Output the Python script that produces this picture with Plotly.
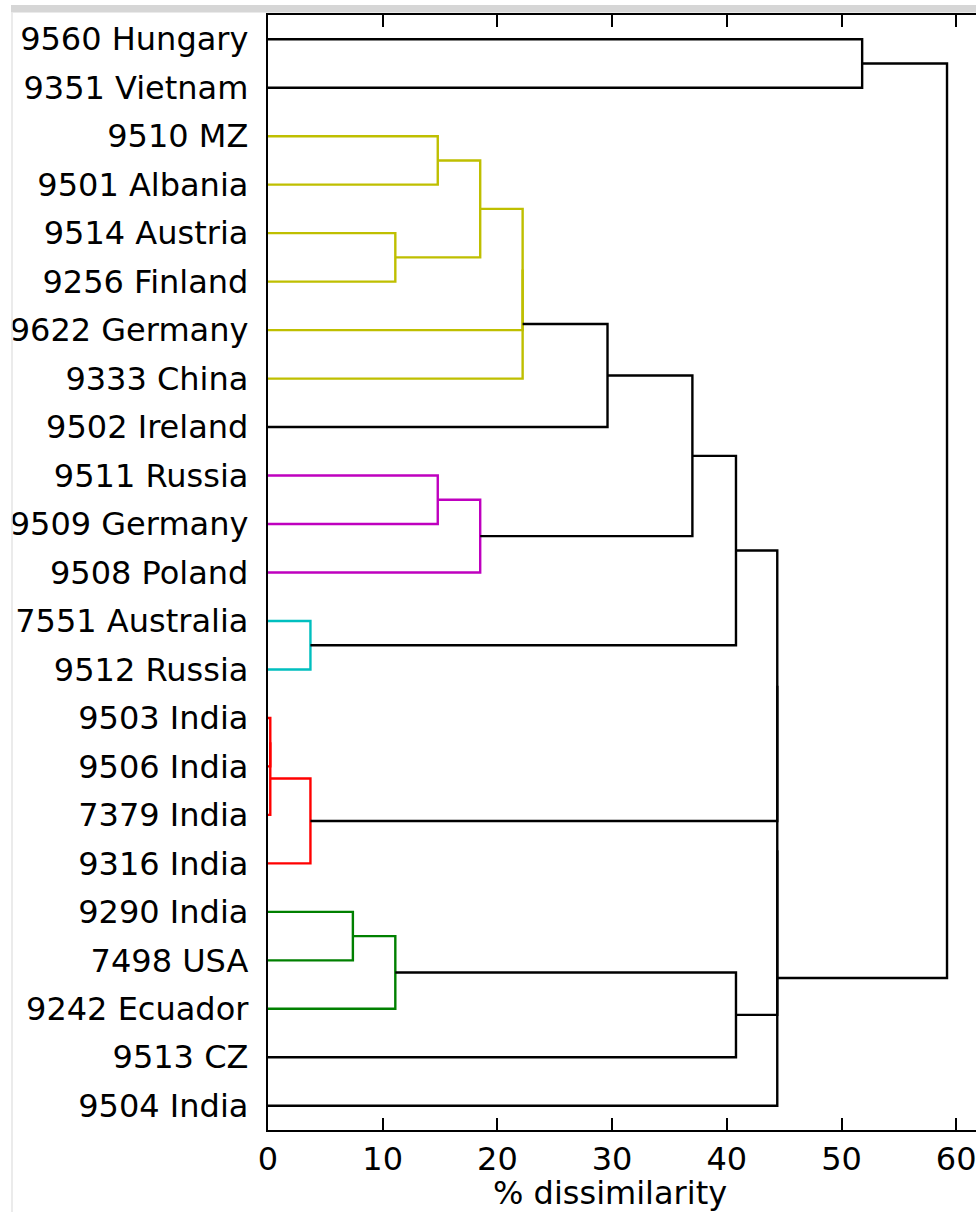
import plotly.graph_objects as go

# ---- data ----
leaf_labels = [
    "9560 Hungary", "9351 Vietnam", "9510 MZ", "9501 Albania", "9514 Austria",
    "9256 Finland", "9622 Germany", "9333 China", "9502 Ireland", "9511 Russia",
    "9509 Germany", "9508 Poland", "7551 Australia", "9512 Russia", "9503 India",
    "9506 India", "7379 India", "9316 India", "9290 India", "7498 USA",
    "9242 Ecuador", "9513 CZ", "9504 India",
]
# linkage: child ids (leaf index < 23, else 23 + merge index), height (% dissimilarity), colour group
merge_left = [14, 23, 24, 12, 18, 4, 27, 2, 9, 30, 31, 32, 34, 35, 36, 37, 29, 38, 40, 41, 0, 43]
merge_right = [15, 16, 17, 13, 19, 5, 20, 3, 10, 28, 11, 6, 7, 8, 33, 26, 21, 25, 39, 22, 1, 42]
merge_height = [0.2, 0.2, 3.7, 3.7, 7.4, 11.1, 11.1, 14.8, 14.8, 18.5, 18.5, 22.2, 22.2,
                29.6, 37.0, 40.8, 40.8, 44.4, 44.4, 44.4, 51.8, 59.2]
merge_group = ["r", "r", "r", "c", "g", "y", "g", "y", "m", "y", "m", "y", "y",
               "k", "k", "k", "k", "k", "k", "k", "k", "k"]
x_ticks = [0, 10, 20, 30, 40, 50, 60]

group_colors = {"r": "#ff0000", "c": "#00bfbf", "g": "#008000", "y": "#bfbf00",
                "m": "#bf00bf", "k": "#000000"}

n = len(leaf_labels)
pos = {i: float(i) for i in range(n)}
hgt = {i: 0.0 for i in range(n)}
paths = {g: ([], []) for g in group_colors}
for k, (a, b, h, g) in enumerate(zip(merge_left, merge_right, merge_height, merge_group)):
    xs, ys = paths[g]
    xs += [hgt[a], h, h, hgt[b], None]
    ys += [pos[a], pos[a], pos[b], pos[b], None]
    cid = n + k
    pos[cid] = (pos[a] + pos[b]) / 2
    hgt[cid] = h

fig = go.Figure()
for g in ["y", "m", "c", "r", "g", "k"]:
    xs, ys = paths[g]
    fig.add_trace(go.Scatter(x=xs, y=ys, mode="lines",
                             line=dict(color=group_colors[g], width=2.4),
                             hoverinfo="skip", showlegend=False))

L, R, T, B = 268, 0, 15, 82
W, H = 976, 1212
pw = W - L - R
ph = H - T - B
font = dict(family="DejaVu Sans", size=32, color="black")

fig.update_layout(
    width=W, height=H,
    margin=dict(l=L, r=R, t=T, b=B, pad=0),
    plot_bgcolor="white", paper_bgcolor="white",
    font=font,
    xaxis=dict(range=[0, pw / 11.47], tickvals=x_ticks, ticks="inside", ticklen=12,
               tickwidth=2, tickcolor="black", showline=True, linewidth=2.4,
               linecolor="black", mirror="ticks", showgrid=False, zeroline=False,
               tickfont=font, ticklabelstandoff=-1, ticklabeloverflow="allow"),
    yaxis=dict(range=[n - 0.5, -0.5], tickvals=list(range(n)), ticktext=leaf_labels,
               ticks="", showline=True, linewidth=2.4, linecolor="black",
               showgrid=False, zeroline=False, tickfont=font, ticklabelstandoff=11),
    annotations=[dict(text="% dissimilarity", xref="paper", yref="paper",
                      x=(610 - L) / pw, y=-(1193 - (H - B)) / ph,
                      showarrow=False, font=font, xanchor="center", yanchor="middle")],
    shapes=[
        dict(type="rect", xref="paper", yref="paper",
             x0=(11 - L) / pw, x1=1.0, y0=1 + (T - 12.5) / ph, y1=1 + (T - 5) / ph,
             fillcolor="#d6d6d6", line=dict(width=0), layer="above"),
        dict(type="line", xref="paper", yref="paper",
             x0=(12 - L) / pw, x1=(12 - L) / pw, y0=-B / ph, y1=1 + (T - 12.5) / ph,
             line=dict(color="#e4e4e4", width=1.5)),
    ],
)

fig.write_html("out.html", config={"displayModeBar": False},
               post_script="document.body.style.margin='0';document.body.style.overflow='hidden';")
